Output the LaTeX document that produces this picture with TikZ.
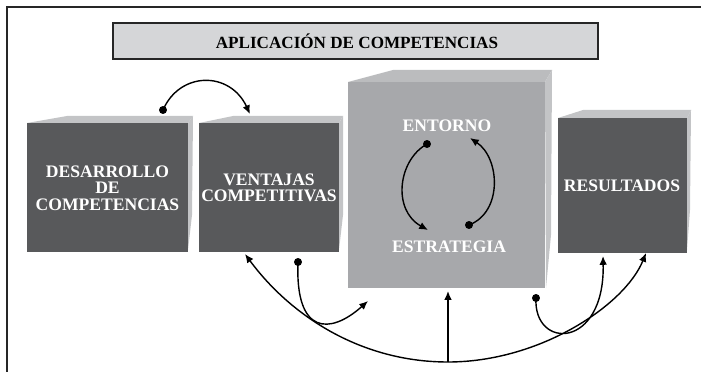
\documentclass[tikz,border=0pt]{standalone}
\usepackage{fontspec}
\setmainfont{Liberation Serif}
\usetikzlibrary{arrows.meta}
\definecolor{oscuro}{HTML}{58595B}
\definecolor{medio}{HTML}{A7A8AB}
\definecolor{claro}{HTML}{C3C4C6}
\definecolor{claromedio}{HTML}{BBBCBE}
\definecolor{fondotitulo}{HTML}{D5D6D8}

\begin{document}
\begin{tikzpicture}[x=0.03cm,y=-0.03cm,
  texto/.style={font=\bfseries\fontsize{15}{14}\selectfont, text=white, align=center},
  flecha/.style={-{Latex[length=7.5pt,width=6.5pt]}, line width=1.2pt},
  punto/.style={fill, radius=3.4pt}]

\useasboundingbox (0,0) rectangle (701,372);
\draw[line width=1.2pt, black!85] (7,372) -- (7,7) -- (701,7);

% titulo
\draw[line width=1.3pt, draw=black!85, fill=fondotitulo] (113,23) rectangle (598,59);
\node[font=\bfseries\fontsize{14.6}{15}\selectfont] (titulo) at (357,41) {APLICACIÓN DE COMPETENCIAS};

% cajas
\begin{scope}
\fill[claro] (27,123) -- (67,116) -- (193,116) -- (188,123) -- cycle;
\fill[claro] (188,123) -- (193,116) -- (192,215) -- (188,250) -- cycle;
\fill[oscuro] (27,123) rectangle (188,252);

\fill[claro] (199,123) -- (233,116) -- (343,116) -- (339,123) -- cycle;
\fill[claro] (339,123) -- (343,116) -- (343,215) -- (339,250) -- cycle;
\fill[oscuro] (199,123) rectangle (339,252);

\fill[claromedio] (348,82) -- (393,70) -- (552,70) -- (545,82) -- cycle;
\fill[claro] (545,82) -- (552,70) -- (551,235) -- (546,288) -- cycle;
\fill[medio] (348,82) rectangle (545,288);

\fill[claro] (558,118) -- (583,110) -- (691,110) -- (687,118) -- cycle;
\fill[claro] (687,118) -- (691,110) -- (690,210) -- (687,250) -- cycle;
\fill[oscuro] (558,118) rectangle (687,253);
\end{scope}

\node[texto] (desarrollo) at (107.5,188) {DESARROLLO\\DE\\COMPETENCIAS};
\node[texto] (ventajas) at (269,188) {VENTAJAS\\COMPETITIVAS};
\node[texto] (entorno) at (447,126) {ENTORNO};
\node[texto] (estrategia) at (449,247) {ESTRATEGIA};
\node[texto] (resultados) at (622,186) {RESULTADOS};

% extremos de las flechas
\coordinate (d1) at (163,110);
\coordinate (v1) at (250,114);
\coordinate (e1) at (427,144);
\coordinate (s1) at (428,230);
\coordinate (s2) at (469,225);
\coordinate (e2) at (470,138);
\coordinate (base) at (448,362);
\coordinate (c1) at (448,291);
\coordinate (v2) at (245,254);
\coordinate (r2) at (646,253);
\coordinate (v3) at (298,262);
\coordinate (c2) at (368,301);
\coordinate (c3) at (536,298);
\coordinate (r1) at (603,256);

\draw[flecha] (d1) .. controls (180,71) and (230,71) .. (v1);
\fill[punto] (d1) circle;

\draw[flecha] (e1) .. controls (398,160) and (392,210) .. (s1);
\fill[punto] (e1) circle;
\draw[flecha] (s2) .. controls (503,212) and (500,158) .. (e2);
\fill[punto] (s2) circle;

\draw[flecha] (base) -- (c1);
\draw[flecha] (base) .. controls (360,362) and (290,315) .. (v2);
\draw[flecha] (base) .. controls (540,362) and (625,305) .. (r2);

\draw[flecha] (v3) .. controls (295,335) and (330,335) .. (c2);
\fill[punto] (v3) circle;
\draw[flecha] (c3) .. controls (533,350) and (605,350) .. (r1);
\fill[punto] (c3) circle;

\end{tikzpicture}
\end{document}
